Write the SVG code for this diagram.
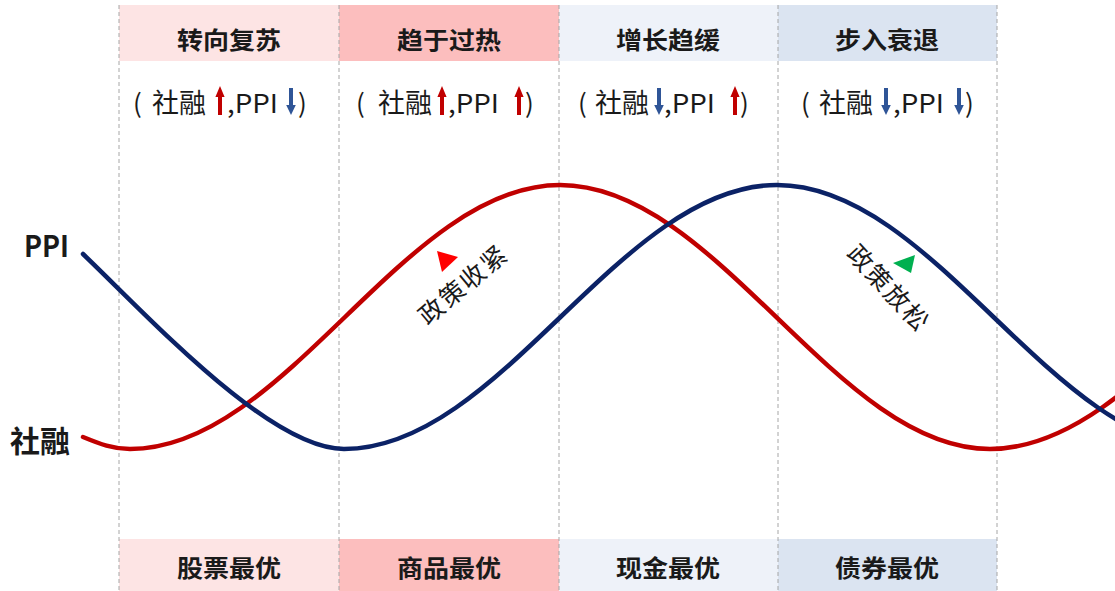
<svg xmlns="http://www.w3.org/2000/svg" width="1115" height="591" viewBox="0 0 1115 591">
<style>
text{font-family:"Noto Sans CJK SC","Noto Sans",sans-serif;fill:#1a1a1a}
.hd{font-size:24px;font-weight:bold;text-anchor:middle}
.sub{font-size:26px}
.cjk{font-size:27px}
.lbl{font-size:30px;font-weight:bold}
.rot{font-size:25px;text-anchor:middle;dominant-baseline:central}
.vline{stroke:#a6a6a6;stroke-width:1;stroke-dasharray:4 3;fill:none}
.curve{fill:none;stroke-width:4.5;stroke-linecap:round}
</style>
<defs>
<path id="up" d="M0,0 L4.6,11 L2,11 L2,29 L-2,29 L-2,11 L-4.6,11 Z" fill="#c00000"/>
<path id="down" d="M-2,0 L2,0 L2,17 L4.8,17 L0,27 L-4.8,17 L-2,17 Z" fill="#2f5597"/>
</defs>
<rect width="1115" height="591" fill="#ffffff"/>

<g id="stage1">
<rect x="119" y="5" width="220" height="56" fill="#fde4e4"/>
<rect x="119" y="539" width="220" height="52" fill="#fde4e4"/>
<text class="hd" x="229" y="49" textLength="104" lengthAdjust="spacingAndGlyphs">转向复苏</text>
<text class="hd" x="229" y="577" textLength="104" lengthAdjust="spacingAndGlyphs">股票最优</text>
<text class="sub" x="133" y="113">(</text>
<text class="cjk" x="152" y="113">社融</text>
<use href="#up" x="220" y="86"/>
<text class="sub" x="227" y="113" textLength="51" lengthAdjust="spacingAndGlyphs">,PPI</text>
<use href="#down" x="291" y="88"/>
<text class="sub" x="298" y="113">)</text>
</g>

<g id="stage2">
<rect x="339" y="5" width="220" height="56" fill="#fcbebe"/>
<rect x="339" y="539" width="220" height="52" fill="#fcbebe"/>
<text class="hd" x="449" y="49" textLength="104" lengthAdjust="spacingAndGlyphs">趋于过热</text>
<text class="hd" x="449" y="577" textLength="104" lengthAdjust="spacingAndGlyphs">商品最优</text>
<text class="sub" x="356" y="113">(</text>
<text class="cjk" x="378" y="113">社融</text>
<use href="#up" x="442" y="86"/>
<text class="sub" x="448" y="113" textLength="51" lengthAdjust="spacingAndGlyphs">,PPI</text>
<use href="#up" x="519" y="86"/>
<text class="sub" x="525" y="113">)</text>
</g>

<g id="stage3">
<rect x="559" y="5" width="219" height="56" fill="#eef2f9"/>
<rect x="559" y="539" width="219" height="52" fill="#eef2f9"/>
<text class="hd" x="668" y="49" textLength="104" lengthAdjust="spacingAndGlyphs">增长趋缓</text>
<text class="hd" x="668" y="577" textLength="104" lengthAdjust="spacingAndGlyphs">现金最优</text>
<text class="sub" x="578" y="113">(</text>
<text class="cjk" x="595" y="113">社融</text>
<use href="#down" x="659" y="88"/>
<text class="sub" x="664" y="113" textLength="51" lengthAdjust="spacingAndGlyphs">,PPI</text>
<use href="#up" x="735" y="86"/>
<text class="sub" x="740" y="113">)</text>
</g>

<g id="stage4">
<rect x="778" y="5" width="219" height="56" fill="#dbe4f1"/>
<rect x="778" y="539" width="219" height="52" fill="#dbe4f1"/>
<text class="hd" x="887" y="49" textLength="104" lengthAdjust="spacingAndGlyphs">步入衰退</text>
<text class="hd" x="887" y="577" textLength="104" lengthAdjust="spacingAndGlyphs">债券最优</text>
<text class="sub" x="801" y="113">(</text>
<text class="cjk" x="819" y="113">社融</text>
<use href="#down" x="886" y="88"/>
<text class="sub" x="893" y="113" textLength="51" lengthAdjust="spacingAndGlyphs">,PPI</text>
<use href="#down" x="959" y="88"/>
<text class="sub" x="965" y="113">)</text>
</g>

<g id="gridlines">
<line class="vline" x1="119" y1="5" x2="119" y2="591"/>
<line class="vline" x1="339" y1="5" x2="339" y2="591"/>
<line class="vline" x1="559" y1="5" x2="559" y2="591"/>
<line class="vline" x1="778" y1="5" x2="778" y2="591"/>
<line class="vline" x1="997" y1="5" x2="997" y2="591"/>
</g>

<g id="connectors">
<path class="curve" stroke="#c00000" d="M83,437 C100,444 113,449 130,449 C286,449 404,185 560,185 C717,185 836,449 990,449 C1147,449 1266,185 1423,185"/>
<path class="curve" stroke="#0b2266" d="M83,254 C150,318 270,449 344,449 C501,449 620,185 777,185 C934,185 1053,449 1210,449"/>
</g>

<g id="label-ppi">
<text class="lbl" x="24" y="257" textLength="45" lengthAdjust="spacingAndGlyphs">PPI</text>
</g>
<g id="label-shr">
<text class="lbl" x="10" y="452">社融</text>
</g>

<g id="tighten">
<polygon points="437,251 458,257 442,272" fill="#ff0000"/>
<text class="rot" transform="translate(462,283) rotate(-40)" letter-spacing="2">政策收紧</text>
</g>
<g id="ease">
<polygon points="893,263 915,255 911,273" fill="#00b050"/>
<text class="rot" transform="translate(890,287) rotate(47)" letter-spacing="2">政策放松</text>
</g>
</svg>
